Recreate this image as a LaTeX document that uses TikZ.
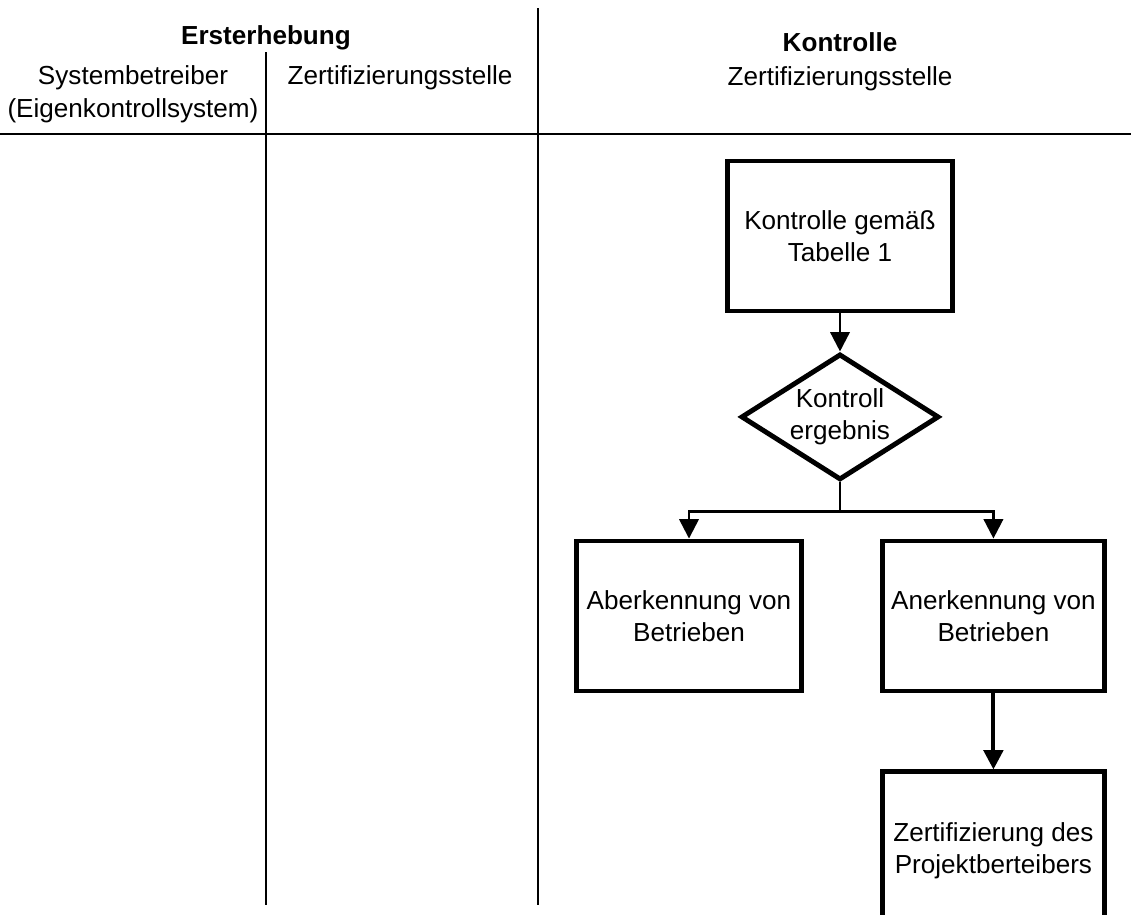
\documentclass[tikz,border=0pt]{standalone}
\usepackage{fontspec}
\setmainfont{Liberation Sans}
\usepackage{tikz}
\usetikzlibrary{arrows.meta, shapes.geometric, positioning}

\begin{document}
\begin{tikzpicture}[auto,node distance=1.52cm,
 font=\fontsize{14.85}{18.5}\selectfont,
 stepbox/.style={rectangle,draw,line width=2.8pt,align=center,minimum width=4.5cm,minimum height=3cm},
 decision/.style={diamond,draw,line width=2.8pt,align=center,inner sep=0pt,aspect=1.57,minimum width=3.96cm,minimum height=2.52cm},
 flow/.style={draw,line width=1.4pt,-{Triangle[width=11pt,length=11pt]}},
 rule/.style={draw,line width=0.8pt}]

  \useasboundingbox (0,0) rectangle (22.62,-18.3);
  \clip (0,0) rectangle (22.62,-18.3);

  % header
  \node (erst) at (5.32,-0.76) {\bfseries Ersterhebung};
  \node[align=center] (sysb) at (2.66,-1.89) {Systembetreiber\\(Eigenkontrollsystem)};
  \node (zert1) at (8.0,-1.56) {Zertifizierungsstelle};
  \node (kont) at (16.8,-0.84) {\bfseries Kontrolle};
  \node (zert2) at (16.8,-1.58) {Zertifizierungsstelle};

  \path[rule] (0,-2.68) -- (22.62,-2.68);
  \path[rule] (5.32,-1.04) -- (5.32,-18.1);
  \path[rule] (10.76,-0.16) -- (10.76,-18.1);

  % flow
  \node[stepbox] (kontrolle) at (16.8,-4.72) {Kontrolle gemäß\\Tabelle 1};
  \node[decision] (ergebnis) [below=0.76cm of kontrolle] {Kontroll\\ergebnis};
  \coordinate[below=0.58cm of ergebnis.south] (branch);
  \node[stepbox] (aberkennung) at (13.78,-12.32) {Aberkennung von\\Betrieben};
  \node[stepbox,minimum width=4.44cm] (anerkennung) [right=1.52cm of aberkennung] {Anerkennung von\\Betrieben};
  \node[stepbox,minimum width=4.44cm,minimum height=3.15cm] (zertifizierung) [below=of anerkennung] {Zertifizierung des\\Projektberteibers};

  \path[flow] (kontrolle) -- (ergebnis);
  \path[draw,line width=1.4pt] (ergebnis.south) -- (branch);
  \foreach \t in {aberkennung, anerkennung} {
   \path[flow] (branch) -| (\t.north);}
  \path[flow,line width=2.3pt] (anerkennung) -- (zertifizierung);

\end{tikzpicture}
\end{document}
